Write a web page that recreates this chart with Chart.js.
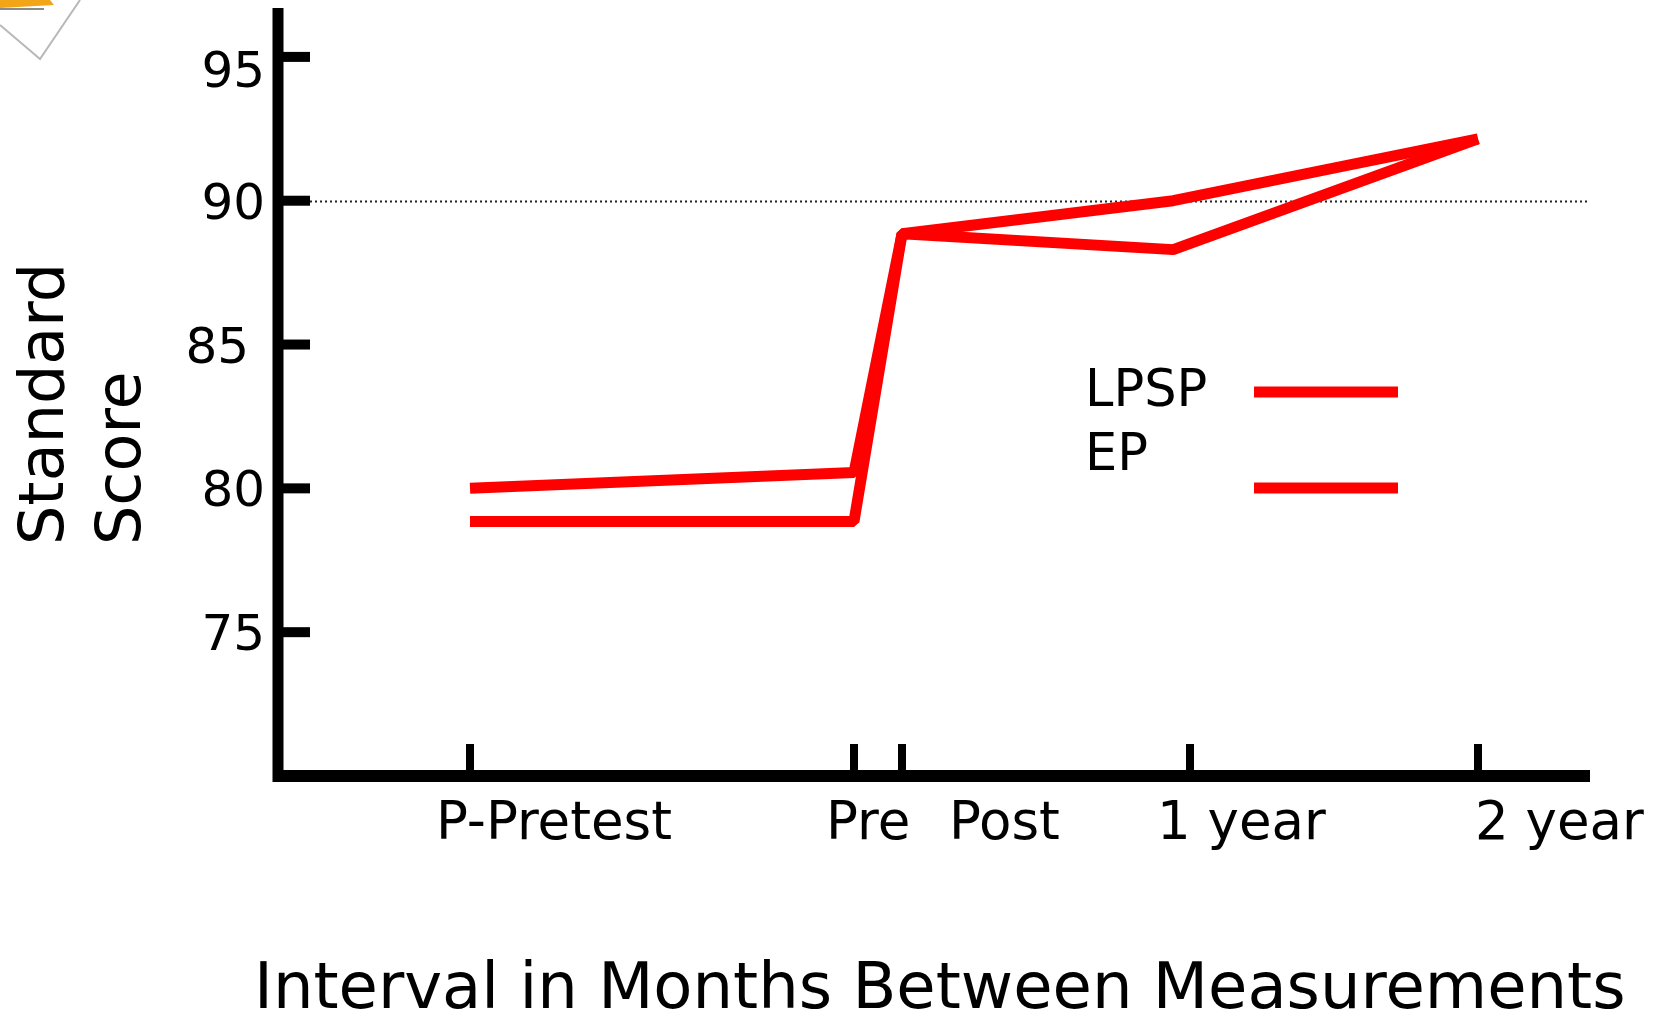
<!DOCTYPE html>
<html>
<head>
<meta charset="utf-8">
<script src="https://cdn.jsdelivr.net/npm/chart.js@4"></script>
<style>
  html, body { margin: 0; padding: 0; background: #fff; }
  canvas { display: block; }
</style>
</head>
<body>
<canvas id="chart" width="1657" height="1017"></canvas>
<script>
// months relative to the "Pre" measurement
const pointMonths = [-16, 0, 2, 13.3, 26];
const lpsp = [80.0, 80.55, 88.85, 90.0, 92.15];
const ep = [78.85, 78.85, 88.85, 88.3, 92.15];
const seriesNames = ['LPSP', 'EP'];

const xTickValues = [-16, 0, 2, 14, 26];
const xTickLabels = ['P-Pretest', 'Pre', 'Post', '1 year', '2 year'];
const yTickValues = [75, 80, 85, 90, 95];
const refLine = 90;

const FONT = '"DejaVu Sans", sans-serif';

function toPoints(ys) {
    return ys.map(function (y, i) { return { x: pointMonths[i], y: y }; });
}

const framePlugin = {
    id: 'frame',
    beforeDatasetsDraw(chart) {
        const ctx = chart.ctx;
        const x = chart.scales.x, y = chart.scales.y;
        const area = chart.chartArea;

        // little clip-art corner (pencil on paper), cut off by the slide edge
        ctx.save();
        ctx.strokeStyle = '#b8b8b8';
        ctx.lineWidth = 2;
        ctx.beginPath();
        ctx.moveTo(0, 25);
        ctx.lineTo(40, 59);
        ctx.lineTo(80, 0);
        ctx.stroke();
        ctx.fillStyle = '#f2a516';
        ctx.beginPath();
        ctx.moveTo(0, 0);
        ctx.lineTo(50, 0);
        ctx.lineTo(54, 5);
        ctx.lineTo(0, 8);
        ctx.closePath();
        ctx.fill();
        ctx.fillStyle = '#8a8a8a';
        ctx.fillRect(0, 8, 44, 2);
        ctx.restore();

        // dotted reference line at 90
        const yy = Math.round(y.getPixelForValue(refLine)) + 0.5;
        ctx.save();
        ctx.strokeStyle = '#222';
        ctx.lineWidth = 2;
        ctx.setLineDash([2, 3]);
        ctx.beginPath();
        ctx.moveTo(area.left + 32, yy);
        ctx.lineTo(area.right, yy);
        ctx.stroke();
        ctx.restore();
    },
    afterDraw(chart) {
        const ctx = chart.ctx;
        const x = chart.scales.x, y = chart.scales.y;
        const area = chart.chartArea;
        ctx.save();

        // axes
        ctx.strokeStyle = '#000';
        ctx.lineCap = 'butt';
        ctx.lineWidth = 11;
        ctx.beginPath();
        ctx.moveTo(area.left, area.top);
        ctx.lineTo(area.left, area.bottom + 6);
        ctx.stroke();
        ctx.lineWidth = 12;
        ctx.beginPath();
        ctx.moveTo(area.left - 5, area.bottom);
        ctx.lineTo(area.right, area.bottom);
        ctx.stroke();

        // y ticks point into the plot
        ctx.lineWidth = 10;
        yTickValues.forEach(function (v) {
            const py = y.getPixelForValue(v);
            ctx.beginPath();
            ctx.moveTo(area.left, py);
            ctx.lineTo(area.left + 32, py);
            ctx.stroke();
        });
        // x ticks point up
        ctx.lineWidth = 8;
        xTickValues.forEach(function (v) {
            const px = x.getPixelForValue(v);
            ctx.beginPath();
            ctx.moveTo(px, area.bottom);
            ctx.lineTo(px, area.bottom - 32);
            ctx.stroke();
        });

        // y tick labels
        ctx.fillStyle = '#000';
        ctx.font = '50px ' + FONT;
        ctx.textAlign = 'right';
        ctx.textBaseline = 'alphabetic';
        const yNudge = { 95: [0, 12], 85: [-16, 0] };
        yTickValues.forEach(function (v) {
            const n = yNudge[v] || [0, 0];
            ctx.fillText(String(v), 265 + n[0], y.getPixelForValue(v) + 18 + n[1]);
        });

        // x tick labels, placed loosely around their ticks as on the slide
        ctx.font = '53px ' + FONT;
        ctx.textAlign = 'left';
        const xShift = [-34, -28, 47, -33, -3];
        xTickValues.forEach(function (v, i) {
            ctx.fillText(xTickLabels[i], x.getPixelForValue(v) + xShift[i], 839);
        });

        // axis titles
        ctx.font = '64px ' + FONT;
        ctx.fillText('Interval in Months Between Measurements', 254, 1008);

        ctx.font = '62px ' + FONT;
        ctx.save();
        ctx.translate(63, 545);
        ctx.rotate(-Math.PI / 2);
        ctx.fillText('Standard', 0, 0);
        ctx.restore();
        ctx.save();
        ctx.translate(140, 545);
        ctx.rotate(-Math.PI / 2);
        ctx.fillText('Score', 0, 0);
        ctx.restore();

        // legend
        ctx.font = '51px ' + FONT;
        ctx.fillText(seriesNames[0], 1085, 406);
        ctx.fillText(seriesNames[1], 1085, 470);
        ctx.strokeStyle = '#ff0000';
        ctx.lineWidth = 11;
        [392, 488].forEach(function (ly) {
            ctx.beginPath();
            ctx.moveTo(1254, ly);
            ctx.lineTo(1398, ly);
            ctx.stroke();
        });

        ctx.restore();
    }
};

const ctx = document.getElementById('chart').getContext('2d');
new Chart(ctx, {
    type: 'line',
    data: {
        datasets: [{
            label: seriesNames[0],
            data: toPoints(lpsp),
            borderColor: '#ff0000',
            borderWidth: 11,
            borderCapStyle: 'butt',
            borderJoinStyle: 'bevel',
            pointRadius: 0,
            tension: 0,
            clip: false
        }, {
            label: seriesNames[1],
            data: toPoints(ep),
            borderColor: '#ff0000',
            borderWidth: 11,
            borderCapStyle: 'butt',
            borderJoinStyle: 'bevel',
            pointRadius: 0,
            tension: 0,
            clip: false
        }]
    },
    options: {
        responsive: false,
        animation: false,
        layout: {
            padding: { left: 278, right: 67, top: 8, bottom: 241 }
        },
        plugins: {
            legend: { display: false },
            tooltip: { enabled: false }
        },
        scales: {
            x: {
                type: 'linear',
                min: -24,
                max: 30.667,
                display: false
            },
            y: {
                min: 70,
                max: 96.7,
                display: false
            }
        }
    },
    plugins: [framePlugin]
});
</script>
</body>
</html>
